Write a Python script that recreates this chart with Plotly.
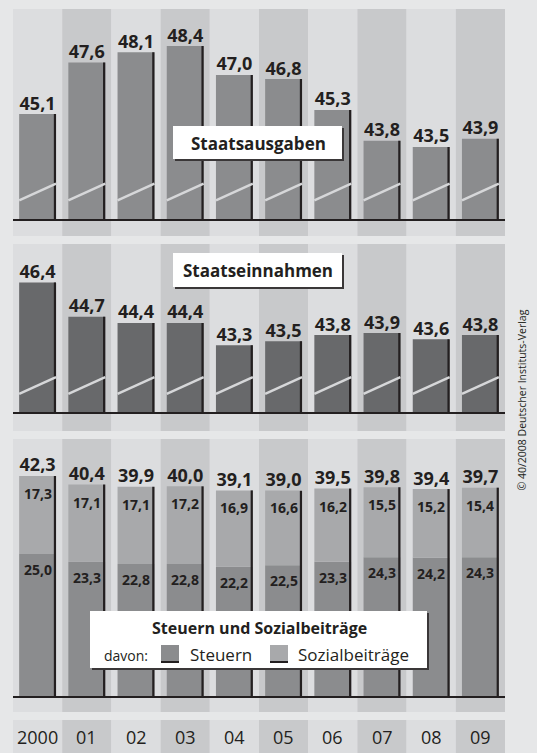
import plotly.graph_objects as go

# ---------------- data ----------------
YEARS = ["2000", "01", "02", "03", "04", "05", "06", "07", "08", "09"]
AUSGABEN = [45.1, 47.6, 48.1, 48.4, 47.0, 46.8, 45.3, 43.8, 43.5, 43.9]
EINNAHMEN = [46.4, 44.7, 44.4, 44.4, 43.3, 43.5, 43.8, 43.9, 43.6, 43.8]
GESAMT = [42.3, 40.4, 39.9, 40.0, 39.1, 39.0, 39.5, 39.8, 39.4, 39.7]
STEUERN = [25.0, 23.3, 22.8, 22.8, 22.2, 22.5, 23.3, 24.3, 24.2, 24.3]
SOZIAL = [17.3, 17.1, 17.1, 17.2, 16.9, 16.6, 16.2, 15.5, 15.2, 15.4]

TITLE1 = "Staatsausgaben"
TITLE2 = "Staatseinnahmen"
TITLE3 = "Steuern und Sozialbeiträge"
COPYRIGHT = "© 40/2008 Deutscher Instituts-Verlag"

# ---------------- style ----------------
W, H = 537, 753
FONT = "Open Sans"
TXT = "#231f20"
BG = "#e6e7e8"
STRIPE_L = "#dcdddf"
STRIPE_D = "#c8c9cb"
C_MID = "#8b8c8e"
C_DARK = "#68696b"
C_LIGHT = "#a8a9ab"
BREAK = "#d6d7d9"

BAR_W = 0.75
EDGE_W = 0.045
Y3_MIN = -6.5


def fmt(v):
    return f"{v:.1f}".replace(".", ",")


def xp(px):
    return px / W


def yp(py):
    return 1 - py / H


X = list(range(len(YEARS)))
fig = go.Figure()


def add_bar(y, color, xa, ya, base=None):
    kw = dict(x=X, y=y, width=BAR_W, offset=-BAR_W / 2,
              marker=dict(color=color, line=dict(width=0)),
              xaxis=xa, yaxis=ya, hoverinfo="skip", showlegend=False)
    if base is not None:
        kw["base"] = base
    fig.add_trace(go.Bar(**kw))


def add_edge(y, xa, ya, base=None):
    kw = dict(x=X, y=y, width=EDGE_W, offset=BAR_W / 2 - EDGE_W,
              marker=dict(color=TXT, line=dict(width=0)),
              xaxis=xa, yaxis=ya, hoverinfo="skip", showlegend=False)
    if base is not None:
        kw["base"] = base
    fig.add_trace(go.Bar(**kw))


def add_labels(y, vals, xa, ya, size):
    fig.add_trace(go.Scatter(x=X, y=y, mode="text", text=[fmt(v) for v in vals],
                             textposition="top center",
                             textfont=dict(family=FONT, size=size, color=TXT, weight="bold"),
                             xaxis=xa, yaxis=ya, hoverinfo="skip", showlegend=False,
                             cliponaxis=False))


# panel 1
add_bar(AUSGABEN, C_MID, "x", "y")
add_edge(AUSGABEN, "x", "y")
add_labels(AUSGABEN, AUSGABEN, "x", "y", 18)

# panel 2
add_bar(EINNAHMEN, C_DARK, "x2", "y2")
add_edge(EINNAHMEN, "x2", "y2")
add_labels(EINNAHMEN, EINNAHMEN, "x2", "y2", 18)

# panel 3 (stacked)
add_bar([s - Y3_MIN for s in STEUERN], C_MID, "x3", "y3", base=Y3_MIN)
add_bar(SOZIAL, C_LIGHT, "x3", "y3", base=STEUERN)
add_edge([g - Y3_MIN for g in GESAMT], "x3", "y3", base=Y3_MIN)
add_labels(GESAMT, GESAMT, "x3", "y3", 18)

# ---------------- shapes ----------------
shapes = []
regions = [(9, 236), (244, 431), (439, 712), (720, 753)]
for i in X:
    col = STRIPE_L if i % 2 == 0 else STRIPE_D
    for (t, b) in regions:
        shapes.append(dict(type="rect", xref="x", yref="paper", x0=i - 0.5, x1=i + 0.5,
                           y0=yp(b), y1=yp(t), fillcolor=col, line=dict(width=0), layer="below"))

# axis break marks
for xa, ya in (("x", "y"), ("x2", "y2")):
    for i in X:
        shapes.append(dict(type="line", xref=xa, yref=ya,
                           x0=i - BAR_W / 2, x1=i + BAR_W / 2, y0=40.9, y1=41.72,
                           line=dict(color=BREAK, width=2.5), layer="above"))


def box(x0, y0, x1, y1):
    shapes.append(dict(type="rect", xref="paper", yref="paper",
                       x0=xp(x0 + 2), x1=xp(x1 + 2), y0=yp(y1 + 2), y1=yp(y0 + 2),
                       fillcolor="#3a3738", line=dict(width=0), layer="above"))
    shapes.append(dict(type="rect", xref="paper", yref="paper",
                       x0=xp(x0), x1=xp(x1), y0=yp(y1), y1=yp(y0),
                       fillcolor="white", line=dict(width=0), layer="above"))


box(173, 126, 342, 159)
box(173, 253, 342, 287)
box(90, 611, 427, 668)


def swatch(x0, y0, x1, y1, color):
    shapes.append(dict(type="rect", xref="paper", yref="paper",
                       x0=xp(x0), x1=xp(x1), y0=yp(y1), y1=yp(y0),
                       fillcolor=color, line=dict(width=0), layer="above"))
    shapes.append(dict(type="line", xref="paper", yref="paper",
                       x0=xp(x0), x1=xp(x1), y0=yp(y1 - 1), y1=yp(y1 - 1),
                       line=dict(color=TXT, width=2), layer="above"))


swatch(161, 645, 179, 663, C_MID)
swatch(270, 645, 288, 663, C_LIGHT)

# ---------------- annotations ----------------
ann = []
for i, yr in zip(X, YEARS):
    ann.append(dict(x=i, xref="x3", y=yp(737), yref="paper", text=yr, showarrow=False,
                    font=dict(family=FONT, size=18, color=TXT), xanchor="center", yanchor="middle"))

# inner segment labels (top of each segment)
for i in X:
    top = STEUERN[i] + SOZIAL[i]
    ann.append(dict(x=i, xref="x3", y=top, yref="y3", text=fmt(SOZIAL[i]), showarrow=False,
                    xanchor="center", yanchor="top", yshift=-6,
                    font=dict(family=FONT, size=14, color=TXT, weight="bold")))
    ann.append(dict(x=i, xref="x3", y=STEUERN[i], yref="y3", text=fmt(STEUERN[i]), showarrow=False,
                    xanchor="center", yanchor="top", yshift=-4,
                    font=dict(family=FONT, size=14, color=TXT, weight="bold")))


def ptext(x, y, text, size, bold=False, xanchor="center"):
    f = dict(family=FONT, size=size, color=TXT)
    if bold:
        f["weight"] = "bold"
    ann.append(dict(x=xp(x), y=yp(y), xref="paper", yref="paper", text=text, showarrow=False,
                    xanchor=xanchor, yanchor="middle", font=f))


ptext(258, 143, TITLE1, 17, bold=True)
ptext(258, 270, TITLE2, 17, bold=True)
ptext(259, 628, TITLE3, 16, bold=True)
ptext(102, 655, "davon:", 14, xanchor="left")
ptext(188, 654, "Steuern", 17, xanchor="left")
ptext(296, 654, "Sozialbeiträge", 17, xanchor="left")
ann.append(dict(x=xp(521.5), y=yp(400), xref="paper", yref="paper", text=COPYRIGHT, showarrow=False,
                xanchor="center", yanchor="middle",
                textangle=-90, font=dict(family=FONT, size=10.5, color=TXT)))

xcommon = dict(domain=[xp(13), xp(505)], range=[-0.5, 9.5], showline=True, linecolor=TXT,
               linewidth=1.5, showticklabels=False, showgrid=False, zeroline=False, ticks="",
               fixedrange=True)
ycommon = dict(visible=False, showgrid=False, zeroline=False, fixedrange=True)

fig.update_layout(
    width=W, height=H,
    margin=dict(l=0, r=0, t=0, b=0),
    paper_bgcolor=BG, plot_bgcolor="rgba(0,0,0,0)",
    barmode="overlay",
    showlegend=False,
    xaxis=dict(**xcommon, anchor="y"),
    xaxis2=dict(**xcommon, anchor="y2"),
    xaxis3=dict(**xcommon, anchor="y3"),
    yaxis=dict(**ycommon, domain=[yp(219), yp(9)], range=[40, 50.2], anchor="x"),
    yaxis2=dict(**ycommon, domain=[yp(412), yp(244)], range=[40, 48.3], anchor="x2"),
    yaxis3=dict(**ycommon, domain=[yp(696), yp(439)], range=[Y3_MIN, 50.5], anchor="x3"),
    shapes=shapes,
    annotations=ann,
    font=dict(family=FONT, color=TXT),
)

fig.write_html("out.html", config={"displayModeBar": False},
               post_script="document.body.style.margin='0px';document.body.style.padding='0px';"
                           "document.body.style.overflow='hidden';")
